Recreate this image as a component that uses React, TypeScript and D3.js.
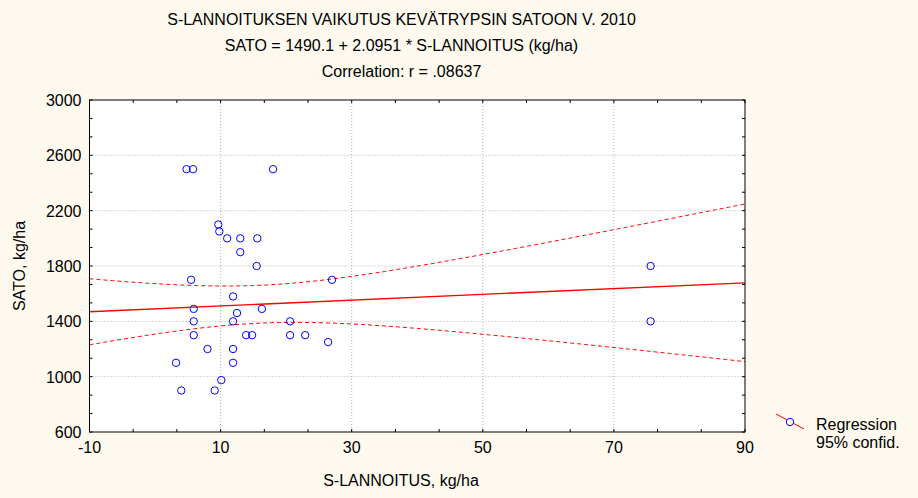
import React from "react";
import * as d3 from "d3";

const titleLines = [
  "S-LANNOITUKSEN VAIKUTUS KEVÄTRYPSIN SATOON V. 2010",
  "SATO = 1490.1 + 2.0951 * S-LANNOITUS (kg/ha)",
  "Correlation: r = .08637",
];
const intercept = 1490.1;
const slope = 2.0951;

// regression summary stats (some observations overlap in the picture)
const nObs = 43;
const xSd = 18.3;
const residSd = 445;
const tCrit = 2.018;

const xTicks = [-10, 10, 30, 50, 70, 90];
const yTicks = [600, 1000, 1400, 1800, 2200, 2600, 3000];

const xVals = [
  4.8, 5.8, 18.0, 9.65, 9.8, 11.0, 13.0, 15.6, 13.0, 15.5,
  5.5, 27.0, 11.9, 5.9, 16.3, 12.5, 5.9, 11.9, 20.6, 5.9,
  13.9, 14.8, 20.6, 22.9, 26.4, 8.0, 11.9, 3.2, 11.9, 10.1,
  4.0, 9.1, 75.6, 75.6,
];
const yVals = [
  2500, 2500, 2500, 2100, 2050, 2000, 2000, 2000, 1900, 1800,
  1700, 1700, 1580, 1490, 1490, 1460, 1400, 1400, 1400, 1300,
  1300, 1300, 1300, 1300, 1250, 1200, 1200, 1100, 1100, 975,
  900, 900, 1800, 1400,
];

const W = 918, H = 498;
const L = 89.5, R = 745, T = 100, B = 432;
const font = "'Liberation Sans', Arial, sans-serif";
const FS = 16;

export default function App() {
  const x = d3.scaleLinear().domain([-10, 90]).range([L, R]);
  const y = d3.scaleLinear().domain([600, 3000]).range([B, T]);

  const xbar = d3.mean(xVals) as number;
  const xs = d3.range(-10, 90.01, 0.5);
  const band = (sign: number) =>
    xs.map(
      (v) =>
        [
          v,
          intercept + slope * v +
            sign * tCrit * residSd * Math.sqrt(1 / nObs + (v - xbar) ** 2 / (nObs * xSd * xSd)),
        ] as [number, number]
    );
  const line = d3.line<[number, number]>().x((d) => x(d[0])).y((d) => y(d[1]));

  const minorX = d3.range(-10, 90.01, 20 / 3);
  const minorY = d3.range(600, 3000.01, 400 / 3);

  return (
    <svg width={W} height={H} style={{ position: "absolute", left: 0, top: 0 }} fontFamily={font}>
      <rect x={0} y={0} width={W} height={H} fill="#FEF9EE" />
      {titleLines.map((t, i) => (
        <text key={i} x={401.5} y={24.5 + i * 26.3} textAnchor="middle" fontSize={FS} fill="#000">
          {t}
        </text>
      ))}
      <rect x={L} y={T} width={R - L} height={B - T} fill="#fff" />
      <defs>
        <clipPath id="clip">
          <rect x={L} y={T} width={R - L} height={B - T} />
        </clipPath>
      </defs>
      {xTicks.slice(1, -1).map((t) => (
        <line key={"gx" + t} x1={x(t)} x2={x(t)} y1={T} y2={B} stroke="#B0B0B0" strokeDasharray="1,2" />
      ))}
      {yTicks.slice(1, -1).map((t) => (
        <line key={"gy" + t} x1={L} x2={R} y1={y(t)} y2={y(t)} stroke="#B0B0B0" strokeDasharray="1,2" />
      ))}
      <g clipPath="url(#clip)">
        <path d={line(band(1)) || ""} fill="none" stroke="#FF0000" strokeWidth={1} strokeDasharray="4,3" />
        <path d={line(band(-1)) || ""} fill="none" stroke="#FF0000" strokeWidth={1} strokeDasharray="4,3" />
        <path d={line([[-10, intercept - 10 * slope], [90, intercept + 90 * slope]]) || ""} fill="none" stroke="#FF0000" strokeWidth={1.3} />
        {xVals.map((v, i) => (
          <circle key={i} cx={x(v)} cy={y(yVals[i])} r={3.7} fill="none" stroke="#0000FF" strokeWidth={1} />
        ))}
      </g>
      {minorX.map((t, i) => (
        <g key={"mx" + i}>
          <line x1={x(t)} x2={x(t)} y1={B} y2={B - 3} stroke="#000" />
          <line x1={x(t)} x2={x(t)} y1={T} y2={T + 3} stroke="#000" />
        </g>
      ))}
      {minorY.map((t, i) => (
        <g key={"my" + i}>
          <line x1={L} x2={L + 3} y1={y(t)} y2={y(t)} stroke="#000" />
          <line x1={R} x2={R - 3} y1={y(t)} y2={y(t)} stroke="#000" />
        </g>
      ))}
      <rect x={L} y={T} width={R - L} height={B - T} fill="none" stroke="#000" strokeWidth={1} />
      {xTicks.map((t) => (
        <text key={"xl" + t} x={x(t)} y={B + 21} textAnchor="middle" fontSize={FS} fill="#000">
          {t}
        </text>
      ))}
      {yTicks.map((t) => (
        <text key={"yl" + t} x={L - 8} y={y(t) + 6} textAnchor="end" fontSize={FS} fill="#000">
          {t}
        </text>
      ))}
      <text x={401} y={486} textAnchor="middle" fontSize={FS} fill="#000">S-LANNOITUS, kg/ha</text>
      <text transform={`translate(25,${(T + B) / 2}) rotate(-90)`} textAnchor="middle" fontSize={FS} fill="#000">
        SATO, kg/ha
      </text>
      <g>
        <line x1={776} x2={804} y1={414} y2={429} stroke="#FF0000" strokeWidth={1} />
        <circle cx={790} cy={422} r={3.7} fill="#fff" stroke="#0000FF" strokeWidth={1} />
        <text x={816} y={430} fontSize={FS} fill="#000">Regression</text>
        <text x={816} y={448} fontSize={FS} fill="#000">95% confid.</text>
      </g>
    </svg>
  );
}
